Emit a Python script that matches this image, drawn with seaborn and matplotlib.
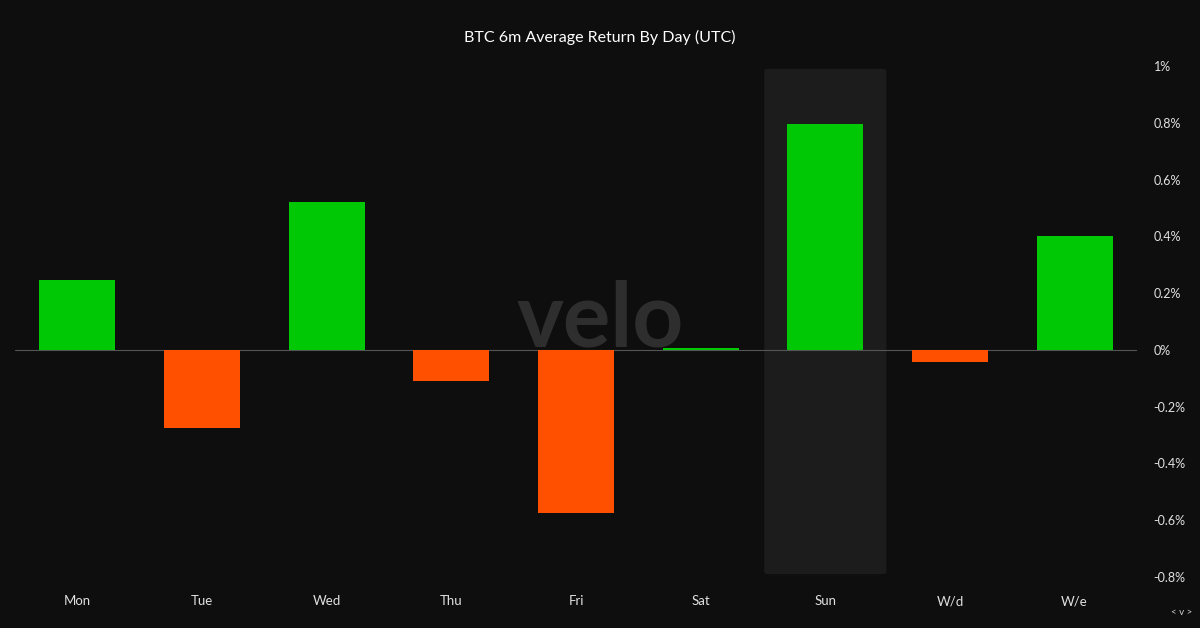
import matplotlib
matplotlib.use("Agg")
import matplotlib.pyplot as plt
import seaborn as sns
import pandas as pd
from matplotlib.patches import FancyBboxPatch

days = ["Mon", "Tue", "Wed", "Thu", "Fri", "Sat", "Sun", "W/d", "W/e"]
returns = [0.247, -0.275, 0.522, -0.109, -0.575, 0.007, 0.794, -0.042, 0.402]
yticks = [1.0, 0.8, 0.6, 0.4, 0.2, 0.0, -0.2, -0.4, -0.6, -0.8]
ytick_labels = ["1%", "0.8%", "0.6%", "0.4%", "0.2%", "0%", "-0.2%", "-0.4%", "-0.6%", "-0.8%"]

bg = "#0e0e0e"
sns.set_theme(style="dark")
plt.rcParams['font.family'] = ['Lato', 'DejaVu Sans']

fig = plt.figure(figsize=(12, 6.28), dpi=100, facecolor=bg)
ax = fig.add_axes([0.0125, 0.0812, 0.935, 0.8137], facecolor=bg)

df = pd.DataFrame({"day": days, "ret": returns})
colors = ["#00c805" if v >= 0 else "#ff5000" for v in returns]
sns.barplot(data=df, x="day", y="ret", hue="day", palette=colors, legend=False,
            width=0.61, ax=ax, saturation=1, zorder=3, linewidth=0, edgecolor="none")

si = days.index("Sun")
ax.add_patch(FancyBboxPatch((si - 0.49, -0.79), 0.98, 1.78,
                            boxstyle="round,pad=0,rounding_size=0.04",
                            facecolor="#1c1c1c", edgecolor="none", zorder=1,
                            mutation_aspect=1.8/9))

ax.axhline(0, color="#555555", lw=0.8, zorder=2)
ax.set_xlim(-0.5, len(days) - 0.5)
ax.set_ylim(-0.8, 1.0)
ax.yaxis.tick_right()
ax.set_yticks(yticks)
ax.set_yticklabels(ytick_labels)
ax.tick_params(axis="y", colors="#e0e0e0", labelsize=9, length=0, pad=12)
ax.tick_params(axis="x", colors="#e0e0e0", labelsize=9.5, length=0, pad=13)
ax.set_xlabel("")
ax.set_ylabel("")
ax.grid(False)
for s in ax.spines.values():
    s.set_visible(False)

fig.text(0.5, 0.94, "BTC 6m Average Return By Day (UTC)", color="white",
         ha="center", va="center", fontsize=11.5)
fig.text(0.5, 0.49, "velo", color="#2e2e2e", ha="center", va="center",
         fontsize=64, fontweight="bold", zorder=0)
fig.text(0.985, 0.025, "< v >", color="#cccccc", ha="center", va="center", fontsize=7)

fig.savefig("out.png", dpi=100, facecolor=bg)
